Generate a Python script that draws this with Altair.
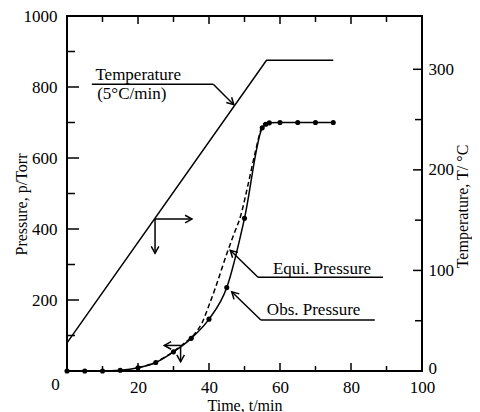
import math
import altair as alt
import pandas as pd

# ---------------- data ----------------
obs_time = [0, 5, 10, 15, 20, 25, 30, 35, 40, 45, 50, 55, 56, 57, 60, 65, 70, 75]
obs_pressure = [0, 0, 0, 2, 9, 24, 54, 92, 146, 235, 430, 685, 695, 699, 700, 700, 700, 700]

equi_time = [20, 25, 30, 33, 36, 38, 40, 42, 45, 47, 49, 51, 53, 55, 56]
equi_pressure = [9, 25, 55, 78, 105, 135, 185, 240, 330, 385, 440, 525, 615, 690, 700]

temp_time = [0, 56.2, 75]
temp_value = [28, 309, 309]

x_tick_labels = [0, 20, 40, 60, 80, 100]
x_minor = [10, 30, 50, 70, 90]
x_major = [20, 40, 60, 80]
p_tick_labels = [200, 400, 600, 800, 1000]
p_major = [200, 400, 600, 800]
p_minor = [100, 300, 500, 700, 900]
t_tick_labels = [0, 100, 200, 300]
t_major = [100, 200, 300]
t_minor = [50, 150, 250]

# annotation texts (time, pressure position)
ann_text = ["Temperature", "(5\u00b0C/min)", "Equi. Pressure", "Obs. Pressure"]
ann_text_t = [8.0, 8.5, 58.0, 56.3]
ann_text_p = [819, 765, 273, 157]

# annotation segments: start (t, p) -> end (t, p), arrowhead at end?
seg_t1 = [7.0, 41.2, 53.8, 53.8, 54.6, 54.6, 24.8, 24.8, 32.0, 32.0]
seg_p1 = [807.6, 807.6, 264, 264, 143.7, 143.7, 428, 428, 72, 72]
seg_t2 = [41.2, 47.0, 89.0, 46.0, 86.7, 46.4, 35.2, 24.8, 27.4, 32.0]
seg_p2 = [807.6, 750, 264, 340, 143.7, 223, 428, 331.5, 72, 26]
seg_head = [False, True, False, True, False, True, True, True, True, True]

# ---------------- layout / style ----------------
W, H = 355, 355
FONT = "Liberation Serif"
FS = 17
TFS = 16
LW = 1.5

obs_df = pd.DataFrame({"t": obs_time, "p": obs_pressure})
equi_df = pd.DataFrame({"t": equi_time, "p": equi_pressure})
temp_df = pd.DataFrame({"t": temp_time, "T": temp_value})
seg_df = pd.DataFrame({"t": seg_t1, "p": seg_p1, "t2": seg_t2, "p2": seg_p2})
heads = []
for a, b, c, d, h in zip(seg_t1, seg_p1, seg_t2, seg_p2, seg_head):
    if h:
        ang = math.degrees(math.atan2((c - a) * W / 100.0, (d - b) * H / 1000.0)) % 360
        heads.append({"t": c, "p": d, "ang": ang})
head_df = pd.DataFrame(heads)
text_df = pd.DataFrame({"t": ann_text_t, "p": ann_text_p, "label": ann_text})

xs = alt.Scale(domain=[0, 100], nice=False, zero=False)
ps = alt.Scale(domain=[0, 1000], nice=False)
ts = alt.Scale(domain=[0, 353], nice=False)

x_axis = alt.Axis(
    values=x_tick_labels, domain=False, ticks=False, grid=False, format="d",
    labelFlush=False, labelOverlap=False,
    labelPadding={"condition": {"test": "datum.value === 0", "value": 5}, "value": 8},
    labelOffset={"condition": {"test": "datum.value === 0", "value": -12}, "value": 0},
    title="Time, t/min", titleY=34, titleBaseline="middle", titleFontSize=TFS,
)
p_axis = alt.Axis(
    orient="left", values=p_tick_labels, domain=False, ticks=False, grid=False, format="d",
    labelPadding=10, labelFlush=False, title="Pressure, p/Torr", titleAngle=270,
    titleX=-46, titleY=188, titleBaseline="middle", titleAlign="center", titleFontSize=TFS,
)
t_axis = alt.Axis(
    orient="right", values=t_tick_labels, domain=False, ticks=False, grid=False, format="d",
    labelPadding=6, labelFlush=False,
    labelOffset={"condition": {"test": "datum.value === 0", "value": -3}, "value": 0},
    title="Temperature, T/ \u00b0C", titleAngle=270,
    titleX=40, titleY=190, titleBaseline="middle", titleAlign="center", titleFontSize=TFS,
)

X = alt.X("t:Q", scale=xs, axis=x_axis)
X2 = alt.X2("t2:Q")

obs_line = alt.Chart(obs_df).mark_line(color="black", strokeWidth=LW, interpolate="monotone").encode(
    x=X, y=alt.Y("p:Q", scale=ps, axis=p_axis))
obs_pts = alt.Chart(obs_df).mark_circle(color="black", size=26, opacity=1).encode(
    x=X, y=alt.Y("p:Q", scale=ps, axis=None))
equi_line = alt.Chart(equi_df).mark_line(color="black", strokeWidth=LW, strokeDash=[5, 3],
                                          interpolate="monotone").encode(
    x=X, y=alt.Y("p:Q", scale=ps, axis=None))
temp_line = alt.Chart(temp_df).mark_line(color="black", strokeWidth=LW).encode(
    x=X, y=alt.Y("T:Q", scale=ts, axis=t_axis))

def xticks(vals, length, top):
    df = pd.DataFrame({"t": vals})
    if top:
        y, y2 = alt.value(0), alt.value(length)
    else:
        y, y2 = alt.value(H), alt.value(H - length)
    return alt.Chart(df).mark_rule(color="black", strokeWidth=LW).encode(x=X, y=y, y2=y2)

def yticks(vals, scale, length, right):
    df = pd.DataFrame({"v": vals})
    if right:
        x, x2 = alt.value(W), alt.value(W - length)
    else:
        x, x2 = alt.value(0), alt.value(length)
    return alt.Chart(df).mark_rule(color="black", strokeWidth=LW).encode(
        y=alt.Y("v:Q", scale=scale, axis=None), x=x, x2=x2)

tick_layers = [
    xticks(x_major, 8, False), xticks(x_minor, 5, False),
    xticks(x_major, 8, True), xticks(x_minor, 6, True),
    yticks(p_major, ps, 12, False), yticks(p_minor, ps, 8, False),
    yticks(t_major, ts, 9, True), yticks(t_minor, ts, 7, True),
]

segs = alt.Chart(seg_df).mark_rule(color="black", strokeWidth=LW).encode(
    x=X, x2=X2, y=alt.Y("p:Q", scale=ps, axis=None), y2="p2:Q")
arrowheads = alt.Chart(head_df).mark_point(
    shape="M-0.55,1 L0,0 L0.55,1", filled=False, color="black", strokeWidth=LW, size=190, opacity=1
).encode(x=X, y=alt.Y("p:Q", scale=ps, axis=None), angle=alt.Angle("ang:Q", scale=None))
texts = alt.Chart(text_df).mark_text(align="left", baseline="alphabetic", font=FONT, fontSize=FS,
                                     color="black").encode(
    x=X, y=alt.Y("p:Q", scale=ps, axis=None), text="label:N")

chart = alt.layer(
    obs_line, temp_line, equi_line, obs_pts, *tick_layers, segs, arrowheads, texts
).resolve_scale(y="independent").resolve_axis(y="independent").properties(
    width=W, height=H,
    autosize=alt.AutoSizeParams(type="none"),
    padding={"left": 59, "top": 8, "right": 50, "bottom": 41},
).configure_axis(
    labelFont=FONT, labelFontSize=FS, labelColor="black",
    titleFont=FONT, titleFontSize=FS, titleColor="black", titleFontWeight="normal",
).configure_view(stroke="black", strokeWidth=2)

chart.save("out.html", embed_options={"renderer": "svg", "actions": False})
